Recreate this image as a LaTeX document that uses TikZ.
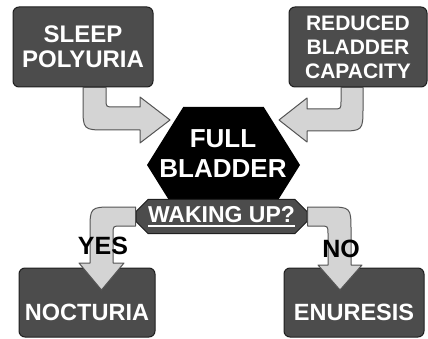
\documentclass[tikz,border=0pt]{standalone}
\usepackage{fontspec}
\setmainfont{Liberation Sans}
\usetikzlibrary{shapes.misc,shapes.symbols}

\definecolor{boxgray}{gray}{0.30}
\definecolor{boxline}{gray}{0.12}
\definecolor{arrowgray}{gray}{0.83}
\definecolor{arrowline}{gray}{0.33}

\newsavebox{\ulbox}
\newcommand{\thickul}[1]{\sbox{\ulbox}{#1}\rlap{\rule[-4pt]{\wd\ulbox}{2pt}}\usebox{\ulbox}}

\begin{document}
\begin{tikzpicture}[x=1pt, y=-1pt,
  causebox/.style={draw=boxline, fill=boxgray, line width=1pt, rounded corners=6pt, align=center, text=white, font=\bfseries\fontsize{24}{25}\selectfont, inner sep=0pt, minimum height=80pt},
  outbox/.style={draw=boxline, fill=boxgray, line width=1pt, rounded corners=6pt, text=white, font=\bfseries\fontsize{23.5}{25}\selectfont, inner sep=0pt, minimum height=69pt, text height=35pt, text depth=0pt},
  hexa/.style={signal, signal to=east and west, signal pointer angle=116, fill=black, minimum width=153pt, minimum height=116pt, inner sep=0pt},
  bigtext/.style={align=center, text=white, font=\bfseries\fontsize{26}{30}\selectfont},
  wakebox/.style={chamfered rectangle, chamfered rectangle xsep=5pt, chamfered rectangle ysep=7pt, draw=boxline, fill=boxgray, line width=1pt, minimum width=171pt, minimum height=34pt, inner sep=0pt, text=white, font=\bfseries\fontsize{23}{24}\selectfont},
  answer/.style={text=black, font=\bfseries\fontsize{25}{26}\selectfont},
  fatarrow/.style={draw=arrowline, fill=arrowgray, line width=1pt, line join=round}
]
\useasboundingbox (0,0) rectangle (428,339);

% ==================== CAUSES ====================
\node[causebox, minimum width=140pt] (sleep) at (83,47) {SLEEP\\POLYURIA};
\node[causebox, minimum width=138pt, font=\bfseries\fontsize{21}{24}\selectfont] (reduced) at (358,47) {REDUCED\\BLADDER\\CAPACITY};

% ==================== OUTCOMES ====================
\node[outbox, minimum width=136pt] (nocturia) at (87,302.5) {NOCTURIA};
\node[outbox, minimum width=140pt] (enuresis) at (354,302.5) {ENURESIS};

% ==================== CENTRE ====================
\node[hexa] (bladder) at (223.5,165) {};
\node[bigtext] (full) at (223,154) {FULL\\BLADDER};
\node[wakebox] (waking) at (221.5,216.5) {\thickul{WAKING UP?}};

% causes into bladder
\draw[fatarrow] (sleep.south -| 83,0) -- (83,106) .. controls (83,130) .. (107,130) -- (140,130) -- (140,143) -- (170,120) -- (140,97) -- (140,107) -- (114,107) .. controls (106,107) .. (106,99) -- (sleep.south -| 106,0) -- cycle;
\draw[fatarrow] (reduced.south -| 363,0) -- (363,107) .. controls (363,131) .. (339,131) -- (307,131) -- (307,142) -- (279,120) -- (307,98) -- (307,109) -- (333,109) .. controls (341,109) .. (341,101) -- (reduced.south -| 341,0) -- cycle;

% waking up? -> yes / no
\draw[fatarrow] (waking.west |- 0,207) -- (114,207) .. controls (90,207) .. (90,231) -- (90,263) -- (79,263) -- (101.5,290) -- (124,263) -- (113,263) -- (113,234) .. controls (113,226) .. (121,226) -- (waking.west |- 0,226) -- cycle;
\draw[fatarrow] (waking.east |- 0,207) -- (327,207) .. controls (351,207) .. (351,231) -- (351,265) -- (362,265) -- (340,290) -- (318,265) -- (328,265) -- (328,234) .. controls (328,226) .. (320,226) -- (waking.east |- 0,226) -- cycle;

\node[answer] (yes) at (103,246) {YES};
\node[answer] (no) at (341,249) {NO};

\end{tikzpicture}
\end{document}
